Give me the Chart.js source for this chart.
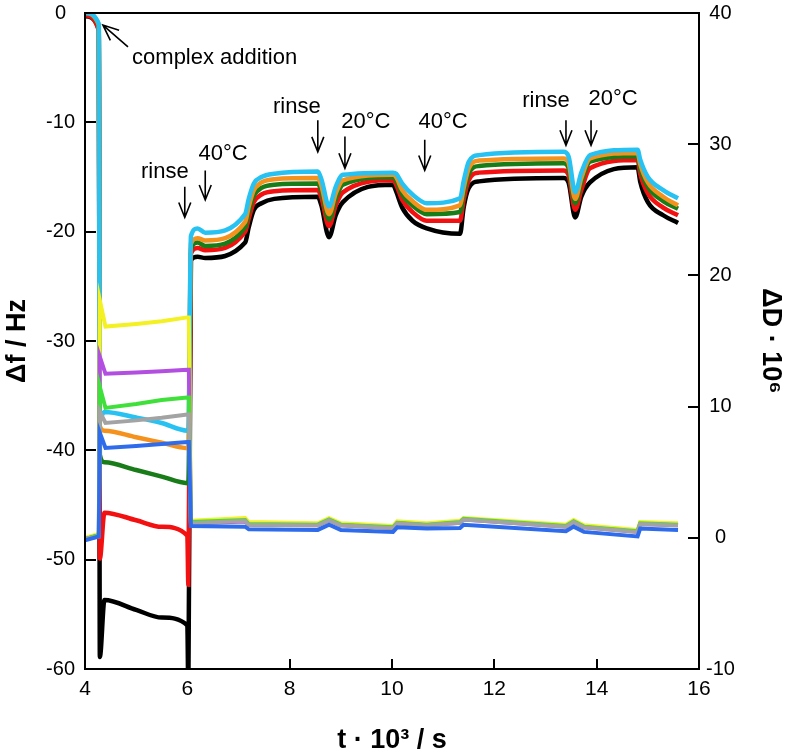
<!DOCTYPE html>
<html>
<head>
<meta charset="utf-8">
<script src="https://cdn.jsdelivr.net/npm/chart.js@4.4.1/dist/chart.umd.min.js"></script>
<style>
  html, body { margin: 0; padding: 0; background: #fff; }
  #wrap { width: 788px; height: 754px; }
</style>
</head>
<body>
<div id="wrap"><canvas id="qcmChart" width="788" height="754"></canvas></div>
<script>
// time axis (t · 10^3 s) for the frequency traces
const tFreq = [4.0, 4.27, 4.29, 4.38, 5.0, 5.5, 6.0, 6.02, 6.07, 6.2, 6.35, 7.13, 7.2, 7.3, 7.45, 7.7,
  8.55, 8.62, 8.77, 8.9, 9.04, 10.02, 10.08, 10.2, 10.4, 10.68, 11.33, 11.4, 11.5, 11.7,
  13.35, 13.45, 13.58, 13.7, 13.87, 14.8, 14.85, 15.0, 15.3, 15.59];

// Δf / Hz, one array per overtone
const fCyan = [0, -1.0, -37.0, -36.5, -37.0, -37.5, -38.2, -38.2, -20.4, -19.7, -20.1, -18.4, -17.0, -15.6, -15.0, -14.7,
  -14.5, -15.2, -17.7, -15.9, -14.8, -14.6, -14.7, -15.6, -16.6, -17.4, -16.95, -15.4, -13.6, -13.0,
  -12.7, -13.1, -16.4, -14.6, -13.0, -12.5, -13.4, -15.0, -16.2, -16.95];
const fOrange = [0, -1.1, -37.8, -38.2, -38.8, -39.3, -39.8, -39.8, -21.1, -20.6, -20.8, -19.1, -17.7, -16.2, -15.5, -15.2,
  -15.1, -15.8, -18.4, -16.5, -15.3, -14.8, -15.0, -16.2, -17.2, -18.0, -17.6, -16.0, -14.2, -13.5,
  -13.3, -13.7, -17.0, -15.1, -13.3, -12.8, -13.8, -15.5, -16.8, -17.6];
const fGreen = [0, -1.2, -40.4, -41.1, -41.8, -42.4, -43.0, -43.0, -21.6, -21.0, -21.3, -19.6, -18.2, -16.7, -16.0, -15.7,
  -15.6, -16.3, -18.9, -17.0, -15.7, -15.0, -15.3, -16.6, -17.6, -18.4, -18.2, -16.5, -14.7, -14.0,
  -13.75, -14.2, -17.4, -15.5, -13.6, -13.1, -14.2, -15.9, -17.2, -17.9];
const fRed = [-0.2, -1.6, -49.9, -45.7, -46.4, -47.0, -47.8, -52.3, -22.0, -21.5, -21.7, -20.0, -18.8, -17.3, -16.6, -16.3,
  -16.2, -16.9, -19.5, -17.6, -16.4, -15.3, -15.7, -17.1, -18.2, -19.0, -19.0, -17.1, -15.3, -14.6,
  -14.4, -14.8, -18.0, -16.2, -14.2, -13.45, -14.7, -16.5, -17.8, -18.5];
const fBlack = [-0.3, -1.5, -58.9, -53.7, -54.6, -55.3, -56.0, -62.0, -22.6, -22.3, -22.4, -21.0, -19.6, -18.0, -17.4, -17.0,
  -16.8, -17.6, -20.5, -18.5, -17.3, -15.7, -16.3, -17.8, -19.0, -19.7, -20.2, -17.8, -16.0, -15.4,
  -15.1, -15.5, -18.7, -16.8, -15.5, -14.1, -15.4, -17.3, -18.5, -19.2];

// time axis for the dissipation traces
const tDiss = [4.0, 4.27, 4.29, 4.4, 5.0, 5.5, 6.0, 6.03, 6.07, 7.13, 7.2, 8.55, 8.77, 9.0, 10.02, 10.1,
  10.68, 11.33, 11.4, 13.4, 13.55, 13.75, 14.8, 14.85, 15.59];

// ΔD · 10^6, one array per overtone
const dYellow = [0.0, 0.3, 18.1, 16.1, 16.3, 16.5, 16.8, 16.8, 1.3, 1.5, 1.2, 1.1, 1.5, 1.1, 0.9, 1.25,
  1.1, 1.3, 1.5, 1.0, 1.35, 0.95, 0.6, 1.2, 1.1];
const dPurple = [-0.1, 0.2, 13.8, 12.5, 12.6, 12.7, 12.8, 12.8, 1.1, 1.25, 1.0, 0.95, 1.35, 0.95, 0.75, 1.1,
  0.95, 1.15, 1.4, 0.85, 1.2, 0.8, 0.45, 1.05, 0.95];
const dLime = [-0.1, 0.2, 11.5, 9.9, 10.2, 10.5, 10.7, 10.7, 1.2, 1.35, 1.05, 1.0, 1.4, 1.0, 0.8, 1.15,
  1.0, 1.2, 1.45, 0.9, 1.25, 0.85, 0.5, 1.1, 1.0];
const dGrey = [-0.1, 0.1, 9.6, 8.75, 8.95, 9.15, 9.4, 9.4, 1.1, 1.3, 1.0, 0.95, 1.35, 0.95, 0.75, 1.1,
  0.95, 1.15, 1.4, 0.85, 1.2, 0.8, 0.45, 1.05, 0.95];
const dBlue = [-0.2, 0.1, 8.0, 6.85, 7.0, 7.15, 7.3, 7.3, 0.9, 0.85, 0.65, 0.6, 1.0, 0.6, 0.45, 0.8,
  0.7, 0.75, 1.0, 0.5, 0.85, 0.45, 0.1, 0.7, 0.6];

// tick labels
const xTicks = [4, 6, 8, 10, 12, 14, 16];
const fTicks = [-60, -50, -40, -30, -20, -10, 0];
const dTicks = [-10, 0, 10, 20, 30, 40];

// arrows with their labels (text position and arrow in data units)
const notes = [
  { text: 'rinse', tx: 5.56, ty: -14.5, ax: 5.95, y1: -15.9, y2: -18.7 },
  { text: '40°C', tx: 6.70, ty: -12.9, ax: 6.35, y1: -14.4, y2: -17.1 },
  { text: 'rinse', tx: 8.14, ty: -8.6, ax: 8.55, y1: -9.8, y2: -12.7 },
  { text: '20°C', tx: 9.49, ty: -10.0, ax: 9.08, y1: -11.3, y2: -14.2 },
  { text: '40°C', tx: 11.0, ty: -10.0, ax: 10.64, y1: -11.6, y2: -14.4 },
  { text: 'rinse', tx: 13.01, ty: -8.0, ax: 13.40, y1: -9.8, y2: -12.1 },
  { text: '20°C', tx: 14.32, ty: -7.9, ax: 13.89, y1: -9.8, y2: -12.1 }
];

const pts = (t, v) => t.map((x, i) => ({ x: x, y: v[i] }));
const sans = "'Liberation Sans', Arial, sans-serif";
const narrow = "'Liberation Sans Narrow', 'Liberation Sans', Arial, sans-serif";

function diss(label, data, color) {
  return { label, data: pts(tDiss, data), yAxisID: 'y2', borderColor: color, borderWidth: 4,
    pointRadius: 0, tension: 0 };
}
function freq(label, data, color) {
  return { label, data: pts(tFreq, data), yAxisID: 'y', borderColor: color, borderWidth: 4.5,
    pointRadius: 0, cubicInterpolationMode: 'monotone' };
}

// frame, inward ticks and the arrow notes
const decor = {
  id: 'decor',
  afterDraw(chart) {
    const { ctx, chartArea: a, scales } = chart;
    ctx.save();
    ctx.strokeStyle = '#000';
    ctx.lineWidth = 2;
    ctx.strokeRect(a.left, a.top, a.right - a.left, a.bottom - a.top);
    ctx.beginPath();
    xTicks.forEach(v => {
      const px = Math.round(scales.x.getPixelForValue(v));
      ctx.moveTo(px, a.bottom); ctx.lineTo(px, a.bottom - 10);
    });
    fTicks.forEach(v => {
      const py = Math.round(scales.y.getPixelForValue(v));
      ctx.moveTo(a.left, py); ctx.lineTo(a.left + 11, py);
    });
    dTicks.forEach(v => {
      const py = Math.round(scales.y2.getPixelForValue(v));
      ctx.moveTo(a.right, py); ctx.lineTo(a.right - 11, py);
    });
    ctx.stroke();

    ctx.fillStyle = '#000';
    ctx.font = '22px ' + sans;
    ctx.textBaseline = 'middle';
    ctx.lineWidth = 1.6;
    notes.forEach(n => {
      const x = scales.x.getPixelForValue(n.ax);
      const y1 = scales.y.getPixelForValue(n.y1);
      const y2 = scales.y.getPixelForValue(n.y2);
      ctx.beginPath();
      ctx.moveTo(x, y1); ctx.lineTo(x, y2);
      ctx.moveTo(x - 6, y2 - 15); ctx.lineTo(x, y2); ctx.lineTo(x + 6, y2 - 15);
      ctx.stroke();
      ctx.textAlign = 'center';
      ctx.fillText(n.text, scales.x.getPixelForValue(n.tx), scales.y.getPixelForValue(n.ty));
    });

    // complex addition arrow
    const tipX = scales.x.getPixelForValue(4.35), tipY = scales.y.getPixelForValue(-1.1);
    const tailX = scales.x.getPixelForValue(4.84), tailY = scales.y.getPixelForValue(-3.1);
    const ang = Math.atan2(tailY - tipY, tailX - tipX);
    ctx.beginPath();
    ctx.moveTo(tailX, tailY); ctx.lineTo(tipX, tipY);
    ctx.moveTo(tipX + 17 * Math.cos(ang - 0.4), tipY + 17 * Math.sin(ang - 0.4));
    ctx.lineTo(tipX, tipY);
    ctx.lineTo(tipX + 17 * Math.cos(ang + 0.4), tipY + 17 * Math.sin(ang + 0.4));
    ctx.stroke();
    ctx.textAlign = 'left';
    ctx.fillText('complex addition', scales.x.getPixelForValue(4.92), scales.y.getPixelForValue(-4.1));
    ctx.restore();
  }
};

// fixed axis sizes so the plot box lands where the reference has it
function fitY(width) {
  return s => { s.width = width; s.paddingTop = 0; s.paddingBottom = 0; };
}

new Chart(document.getElementById('qcmChart'), {
  type: 'line',
  data: {
    datasets: [
      diss('D blue', dBlue, '#2f6cec'),
      diss('D grey', dGrey, '#a3a3a3'),
      diss('D lime', dLime, '#3fe03a'),
      diss('D purple', dPurple, '#b34fe0'),
      diss('D yellow', dYellow, '#f3f024'),
      freq('f cyan', fCyan, '#27c2f2'),
      freq('f orange', fOrange, '#f5921e'),
      freq('f green', fGreen, '#187c18'),
      freq('f red', fRed, '#f21010'),
      freq('f black', fBlack, '#000000')
    ]
  },
  options: {
    responsive: false,
    devicePixelRatio: 1,
    animation: false,
    layout: { padding: { top: 13, left: 0, right: 0, bottom: 0 } },
    plugins: { legend: { display: false }, tooltip: { enabled: false } },
    scales: {
      x: {
        type: 'linear', min: 4, max: 16,
        grid: { display: false, drawTicks: false }, border: { display: false },
        afterBuildTicks: s => { s.ticks = xTicks.map(v => ({ value: v })); },
        afterFit: s => { s.height = 85; s.paddingLeft = 0; s.paddingRight = 0; },
        ticks: { color: '#000', padding: 8, maxRotation: 0, font: { family: narrow, size: 21 } },
        title: { display: true, text: 't · 10³ / s', color: '#000', padding: { top: 0, bottom: 0 },
          font: { family: narrow, size: 27, weight: 'bold', lineHeight: 1 } }
      },
      y: {
        position: 'left', min: -60, max: 0,
        grid: { display: false, drawTicks: false }, border: { display: false },
        afterBuildTicks: s => { s.ticks = fTicks.map(v => ({ value: v })); },
        afterFit: fitY(85),
        ticks: { color: '#000', padding: 10, crossAlign: 'center', font: { family: sans, size: 20 } },
        title: { display: true, text: 'Δf / Hz', color: '#000', padding: { top: 1, bottom: 0 },
          font: { family: sans, size: 27, weight: 'bold' } }
      },
      y2: {
        position: 'right', min: -10, max: 40,
        grid: { display: false, drawTicks: false }, border: { display: false },
        afterBuildTicks: s => { s.ticks = dTicks.map(v => ({ value: v })); },
        afterFit: fitY(89),
        ticks: { color: '#000', padding: 7, crossAlign: 'center', font: { family: sans, size: 20 } },
        title: { display: true, text: 'ΔD · 10⁶', color: '#000', padding: { top: 1, bottom: 0 },
          font: { family: sans, size: 27, weight: 'bold' } }
      }
    }
  },
  plugins: [decor]
});
</script>
</body>
</html>
